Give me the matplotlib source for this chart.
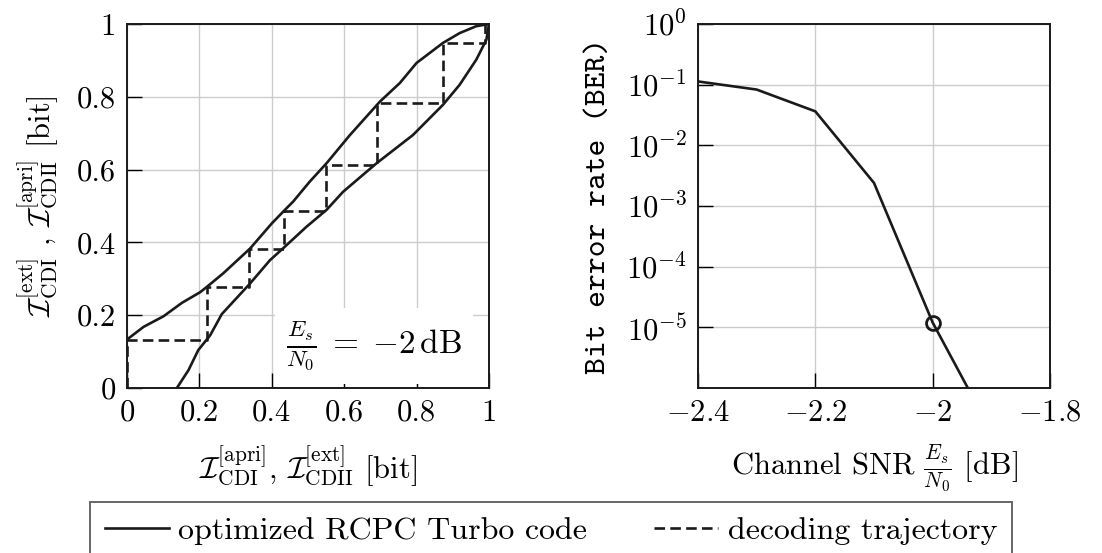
import matplotlib
matplotlib.use('Agg')
import matplotlib.pyplot as plt
from matplotlib.lines import Line2D
from matplotlib.ticker import NullLocator
import numpy as np

plt.rcParams['font.family'] = 'serif'
plt.rcParams['font.serif'] = ['cmr10']
plt.rcParams['mathtext.fontset'] = 'cm'
plt.rcParams['axes.formatter.use_mathtext'] = True
plt.rcParams['axes.unicode_minus'] = True

# EXIT chart: transfer curve of decoder CDI
cdi_x = [0.0, 0.046, 0.101, 0.152, 0.202, 0.221, 0.266, 0.34, 0.40, 0.436, 0.459,
         0.505, 0.551, 0.616, 0.699, 0.754, 0.80, 0.873, 0.919, 0.965, 1.0]
cdi_y = [0.133, 0.168, 0.197, 0.234, 0.263, 0.278, 0.315, 0.383, 0.452, 0.489, 0.512,
         0.567, 0.617, 0.695, 0.787, 0.838, 0.893, 0.948, 0.975, 0.994, 1.0]

# transfer curve of decoder CDII (axes swapped)
cdii_x = [0.138, 0.17, 0.197, 0.23, 0.262, 0.34, 0.395, 0.436, 0.496, 0.551, 0.597,
          0.689, 0.79, 0.873, 0.919, 0.965, 0.993, 1.0]
cdii_y = [0.0, 0.049, 0.104, 0.145, 0.203, 0.287, 0.351, 0.388, 0.443, 0.489, 0.539,
          0.617, 0.695, 0.778, 0.833, 0.902, 0.957, 1.0]

# decoding trajectory (staircase)
traj_x = [0.0, 0.0, 0.221, 0.221, 0.337, 0.337, 0.435, 0.435, 0.549, 0.549,
          0.692, 0.692, 0.873, 0.873, 0.99, 0.99]
traj_y = [0.0, 0.133, 0.133, 0.278, 0.278, 0.383, 0.383, 0.486, 0.486, 0.613,
          0.613, 0.783, 0.783, 0.948, 0.948, 1.0]

# BER simulation
snr_db = [-2.4, -2.3, -2.2, -2.1, -2.0, -1.9]
ber = [0.113, 0.083, 0.0363, 0.0024, 1.2e-5, 1.9e-7]
snr_mark = [-2.0]
ber_mark = [1.2e-5]

exit_ticks = [0, 0.2, 0.4, 0.6, 0.8, 1]
exit_labels = ['0', '0.2', '0.4', '0.6', '0.8', '1']
snr_ticks = [-2.4, -2.2, -2.0, -1.8]
snr_labels = [r'$-2.4$', r'$-2.2$', r'$-2$', r'$-1.8$']
ber_ticks = [1e-5, 1e-4, 1e-3, 1e-2, 1e-1, 1e0]

fs = 22
lc = '0.1'
lw = 1.9

fig = plt.figure(figsize=(11.02, 5.53), dpi=100)
ax1 = fig.add_axes([0.1152, 0.2984, 0.3285, 0.6582])
ax2 = fig.add_axes([0.6334, 0.2984, 0.3194, 0.6582])

for ax in (ax1, ax2):
    for s in ax.spines.values():
        s.set_linewidth(1.4)
        s.set_color('0.1')
    ax.grid(True, color='0.8', linewidth=1.0)
    ax.set_axisbelow(True)
    ax.tick_params(direction='in', length=11, width=1.0, labelsize=fs, pad=8,
                   top=False, right=False)

# left: EXIT chart
ax1.plot(cdi_x, cdi_y, color=lc, linewidth=lw)
ax1.plot(cdii_x, cdii_y, color=lc, linewidth=lw)
ax1.plot(traj_x, traj_y, color=lc, linewidth=lw, dashes=(4, 2))
ax1.set_xlim(0, 1)
ax1.set_ylim(0, 1)
ax1.set_xticks(exit_ticks)
ax1.set_xticklabels(exit_labels)
ax1.set_yticks(exit_ticks)
ax1.set_yticklabels(exit_labels)
ax1.set_xlabel(r'$\mathcal{I}^{[\mathrm{apri}]}_{\mathrm{CDI}}$, '
               r'$\mathcal{I}^{[\mathrm{ext}]}_{\mathrm{CDII}}$ [bit]',
               fontsize=fs, labelpad=12)
ax1.set_ylabel(r'$\mathcal{I}^{[\mathrm{ext}]}_{\mathrm{CDI}}$ , '
               r'$\mathcal{I}^{[\mathrm{apri}]}_{\mathrm{CDII}}$ [bit]',
               fontsize=fs, labelpad=12)
ax1.text(0.925, 0.04, r'$\frac{E_s}{N_0}\;=\;{-2}\,\mathrm{dB}$', transform=ax1.transAxes,
         ha='right', va='bottom', fontsize=24, zorder=2.2,
         bbox=dict(facecolor='white', edgecolor='none', pad=8))

# right: BER curve
ax2.semilogy(snr_db, ber, color=lc, linewidth=lw)
ax2.plot(snr_mark, ber_mark, 'o', markersize=10, markerfacecolor='none',
         markeredgecolor=lc, markeredgewidth=2)
ax2.set_xlim(-2.4, -1.8)
ax2.set_ylim(1e-6, 1)
ax2.set_xticks(snr_ticks)
ax2.set_xticklabels(snr_labels)
ax2.set_yticks(ber_ticks)
ax2.yaxis.set_minor_locator(NullLocator())
ax2.set_xlabel(r'Channel SNR $\frac{E_s}{N_0}$ [dB]', fontsize=fs, labelpad=12)
ax2.set_ylabel('Bit error rate (BER)', fontsize=23, labelpad=10, family='cmtt10')

handles = [Line2D([], [], color=lc, linewidth=lw),
           Line2D([], [], color=lc, linewidth=lw, dashes=(4, 2))]
leg = fig.legend(handles, ['optimized RCPC Turbo code', 'decoding trajectory'],
                 ncol=2, loc='upper center', bbox_to_anchor=(0.5, 1 - 502 / 553),
                 fontsize=23, frameon=True, fancybox=False, borderpad=0.45,
                 handlelength=2.0, handletextpad=0.3, columnspacing=2.1,
                 borderaxespad=0)
leg.get_frame().set_edgecolor('0.25')
leg.get_frame().set_linewidth(1.4)

fig.savefig('out.png', dpi=100)
